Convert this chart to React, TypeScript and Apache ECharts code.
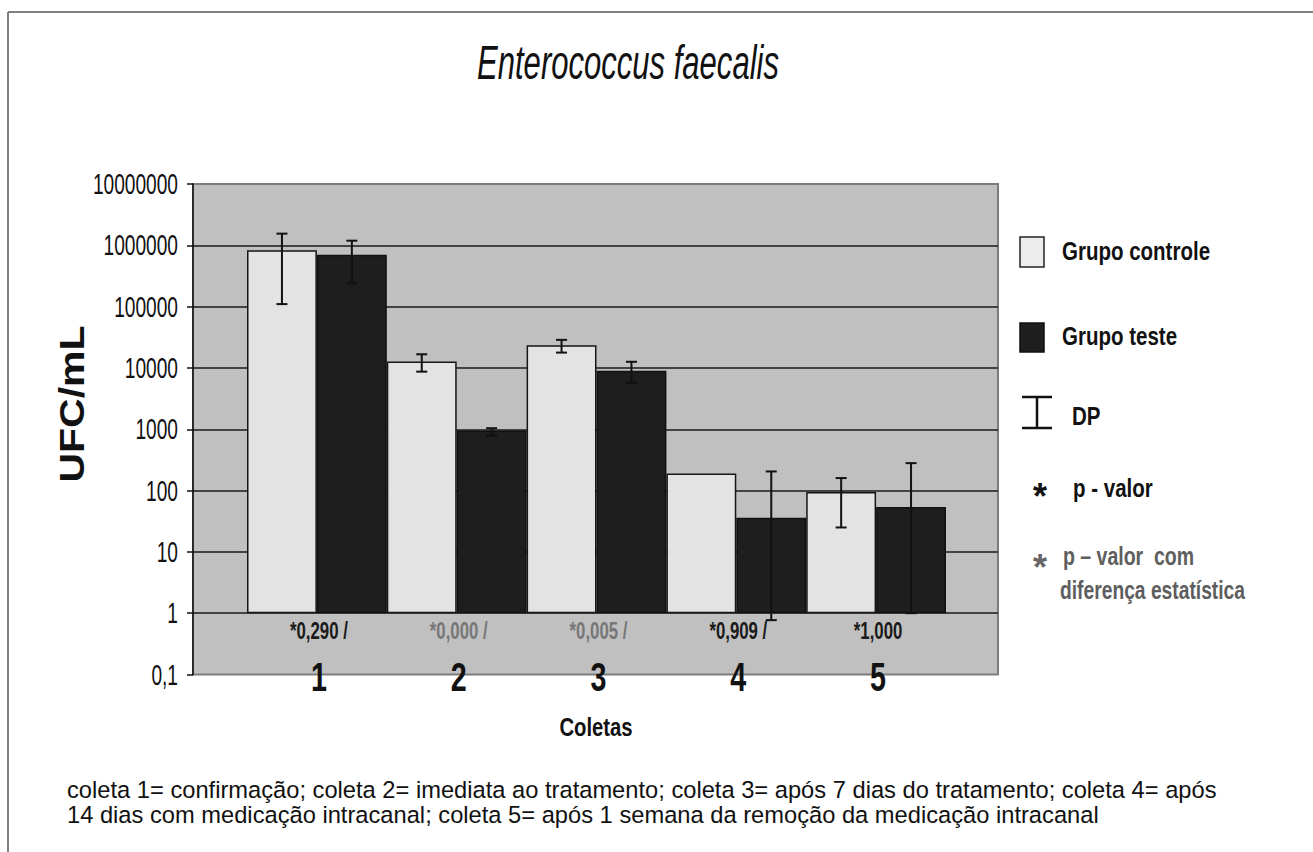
import React, { useEffect, useRef } from "react";
import * as echarts from "echarts";

// ---- data ----
const categories = ["1", "2", "3", "4", "5"];
const pValueLabels = ["*0,290 /", "*0,000 /", "*0,005 /", "*0,909 /", "*1,000"];
const pValueSignificant = [false, true, true, false, false];

const controleMean = [830000, 12700, 23500, 190, 95];
const controleLow: (number | null)[] = [110000, 8700, 17800, null, 25];
const controleHigh: (number | null)[] = [1550000, 16700, 28700, null, 160];

const testeMean = [700000, 950, 9000, 36, 54];
const testeLow: (number | null)[] = [240000, 790, 5750, 0.77, 1];
const testeHigh: (number | null)[] = [1190000, 1040, 12600, 205, 280];

const yTickValues = [10000000, 1000000, 100000, 10000, 1000, 100, 10, 1, 0.1];
const yTickLabels = ["10000000", "1000000", "100000", "10000", "1000", "100", "10", "1", "0,1"];

const titleText = "Enterococcus faecalis";
const yAxisTitle = "UFC/mL";
const xAxisTitle = "Coletas";
const legendControle = "Grupo controle";
const legendTeste = "Grupo teste";
const legendDP = "DP";
const legendP = "p - valor";
const legendPSig1 = "p \u2013 valor  com";
const legendPSig2 = "diferen\u00e7a estat\u00edstica";
const footnoteLines = [
  "coleta 1= confirma\u00e7\u00e3o; coleta 2= imediata ao tratamento; coleta 3= ap\u00f3s 7 dias do tratamento; coleta 4= ap\u00f3s",
  "14 dias com medica\u00e7\u00e3o intracanal; coleta 5= ap\u00f3s 1 semana da remo\u00e7\u00e3o da medica\u00e7\u00e3o intracanal",
];

const FONT = "'Liberation Sans', Arial, Helvetica, sans-serif";

function errData(low: (number | null)[], high: (number | null)[]) {
  const out: number[][] = [];
  low.forEach((l, i) => {
    const h = high[i];
    if (l != null && h != null) out.push([i, l, h]);
  });
  return out;
}

function errorRenderer(side: number) {
  return (params: any, api: any) => {
    const i = api.value(0);
    const lo = api.value(1);
    const hi = api.value(2);
    const band = api.coord([1, 1])[0] - api.coord([0, 1])[0];
    const pHi = api.coord([i, hi]);
    const pLo = api.coord([i, lo]);
    const x = pHi[0] + (side * band) / 4;
    const cap = 5.5;
    const st = { stroke: "#111", lineWidth: 2 };
    return {
      type: "group",
      children: [
        { type: "line", shape: { x1: x, y1: pHi[1], x2: x, y2: pLo[1] }, style: st },
        { type: "line", shape: { x1: x - cap, y1: pHi[1], x2: x + cap, y2: pHi[1] }, style: st },
        { type: "line", shape: { x1: x - cap, y1: pLo[1], x2: x + cap, y2: pLo[1] }, style: st },
      ],
    };
  };
}

function txt(text: string, x: number, y: number, size: number, o: any = {}) {
  return {
    type: "text",
    x,
    y,
    scaleX: o.sx ?? 1,
    scaleY: o.sy ?? 1,
    rotation: o.rot ?? 0,
    silent: true,
    z: 100,
    style: {
      text,
      x: 0,
      y: 0,
      fontSize: size,
      fontFamily: o.family ?? FONT,
      fontWeight: o.bold ? "bold" : "normal",
      fontStyle: o.italic ? "italic" : "normal",
      fill: o.color ?? "#111",
      textAlign: o.align ?? "left",
      align: o.align ?? "left",
      textVerticalAlign: "middle",
      verticalAlign: "middle",
    },
  };
}

export default function App() {
  const ref = useRef<HTMLDivElement>(null);

  useEffect(() => {
    document.body.style.margin = "0";
    const chart = echarts.init(ref.current!, null, { renderer: "svg" });

    const logAxisBase = { type: "log", logBase: 10, min: 0.1, max: 10000000 };

    const option: any = {
      animation: false,
      backgroundColor: "#ffffff",
      grid: [
        {
          left: 193, top: 184, width: 805, height: 490.5,
          show: true, backgroundColor: "#c0c0c0", borderColor: "#7c7c7c", borderWidth: 2,
          outerBoundsMode: "none", containLabel: false,
        },
        {
          left: 247, top: 184, width: 699, height: 490.5,
          outerBoundsMode: "none", containLabel: false,
        },
      ],
      xAxis: [
        { gridIndex: 0, type: "value", min: 0, max: 1, show: false },
        {
          gridIndex: 1, type: "category", data: categories, boundaryGap: true,
          axisLine: { show: false }, axisTick: { show: false }, axisLabel: { show: false },
          splitLine: { show: false },
        },
      ],
      yAxis: [
        {
          ...logAxisBase, gridIndex: 0,
          axisLine: { show: true, lineStyle: { color: "#111", width: 1.5 } },
          axisTick: { show: true, inside: false, length: 6, lineStyle: { color: "#111", width: 1.5 } },
          axisLabel: { show: false },
          splitLine: { show: true, showMinLine: false, showMaxLine: false, lineStyle: { color: "#1a1a1a", width: 1.6 } },
          minorTick: { show: false }, minorSplitLine: { show: false },
        },
        {
          ...logAxisBase, gridIndex: 1, show: false,
          splitLine: { show: false },
        },
      ],
      series: [
        {
          name: legendControle, type: "bar", xAxisIndex: 1, yAxisIndex: 1,
          data: controleMean, barGap: "0%", barCategoryGap: "0%",
          itemStyle: { color: "#e3e3e3", borderColor: "#151515", borderWidth: 1.5 },
        },
        {
          name: legendTeste, type: "bar", xAxisIndex: 1, yAxisIndex: 1,
          data: testeMean, barGap: "0%", barCategoryGap: "0%",
          itemStyle: { color: "#1e1e1e", borderColor: "#111", borderWidth: 1.5 },
        },
        {
          name: "DP controle", type: "custom", xAxisIndex: 1, yAxisIndex: 1,
          data: errData(controleLow, controleHigh), encode: { x: 0, y: [1, 2] },
          renderItem: errorRenderer(-1), z: 5,
        },
        {
          name: "DP teste", type: "custom", xAxisIndex: 1, yAxisIndex: 1,
          data: errData(testeLow, testeHigh), encode: { x: 0, y: [1, 2] },
          renderItem: errorRenderer(1), z: 5,
        },
      ],
    };
    chart.setOption(option);

    const yPix = (v: number) => chart.convertToPixel({ yAxisIndex: 0 } as any, v) as unknown as number;
    const xPix = (i: number) => chart.convertToPixel({ xAxisIndex: 1 } as any, i) as unknown as number;

    const els: any[] = [];
    // outer frame
    els.push({ type: "line", shape: { x1: 8, y1: 12, x2: 1313, y2: 12 }, style: { stroke: "#808080", lineWidth: 2 }, silent: true });
    els.push({ type: "line", shape: { x1: 8, y1: 12, x2: 8, y2: 852 }, style: { stroke: "#808080", lineWidth: 2 }, silent: true });

    // title
    els.push(txt(titleText, 628, 62, 48, { italic: true, sx: 0.647, align: "center" }));

    // y tick labels
    yTickValues.forEach((v, i) => {
      els.push(txt(yTickLabels[i], 178, yPix(v), 29, { sx: 0.66, align: "right" }));
    });

    // y axis title
    els.push(txt(yAxisTitle, 72, 404, 41, { bold: true, rot: Math.PI / 2, sy: 0.85, align: "center" }));

    // category labels and p-values
    const yOne = yPix(1);
    const yBottom = yPix(0.1);
    categories.forEach((c, i) => {
      const x = xPix(i);
      els.push(txt(c, x + 2, yBottom + 2, 41, { bold: true, sx: 0.7, align: "center" }));
      els.push(
        txt(pValueLabels[i], x + 2, yOne + 18, 23, {
          bold: true, sx: 0.73, align: "center",
          color: pValueSignificant[i] ? "#777777" : "#1a1a1a",
        })
      );
    });

    // x axis title
    els.push(txt(xAxisTitle, 596, 727, 26, { bold: true, sx: 0.78, align: "center" }));

    // legend
    els.push({ type: "rect", shape: { x: 1020, y: 237, width: 24, height: 30 }, style: { fill: "#ececec", stroke: "#222", lineWidth: 1.5 }, silent: true });
    els.push(txt(legendControle, 1062, 251, 25, { bold: true, sx: 0.82 }));
    els.push({ type: "rect", shape: { x: 1020, y: 323, width: 24, height: 29 }, style: { fill: "#1e1e1e", stroke: "#111", lineWidth: 1.5 }, silent: true });
    els.push(txt(legendTeste, 1062, 336, 25, { bold: true, sx: 0.82 }));
    const dpSt = { stroke: "#111", lineWidth: 2.5 };
    els.push({ type: "line", shape: { x1: 1022, y1: 397, x2: 1052, y2: 397 }, style: dpSt, silent: true });
    els.push({ type: "line", shape: { x1: 1037, y1: 397, x2: 1037, y2: 428 }, style: dpSt, silent: true });
    els.push({ type: "line", shape: { x1: 1022, y1: 428, x2: 1052, y2: 428 }, style: dpSt, silent: true });
    els.push(txt(legendDP, 1072, 416, 25, { bold: true, sx: 0.82 }));
    els.push(txt("*", 1040, 496, 36, { bold: true, align: "center" }));
    els.push(txt(legendP, 1073, 488, 25, { bold: true, sx: 0.82 }));
    els.push(txt("*", 1040, 567, 36, { bold: true, align: "center", color: "#666666" }));
    els.push(txt(legendPSig1, 1063, 557, 25, { bold: true, sx: 0.78, color: "#5e5e5e" }));
    els.push(txt(legendPSig2, 1060, 591, 25, { bold: true, sx: 0.77, color: "#5e5e5e" }));

    // footnote
    els.push(txt(footnoteLines[0], 67, 790, 23.7, { color: "#111" }));
    els.push(txt(footnoteLines[1], 67, 815, 23.7, { color: "#111" }));

    chart.setOption({ graphic: { elements: els } });

    return () => chart.dispose();
  }, []);

  return <div ref={ref} style={{ width: 1313, height: 852 }} />;
}
